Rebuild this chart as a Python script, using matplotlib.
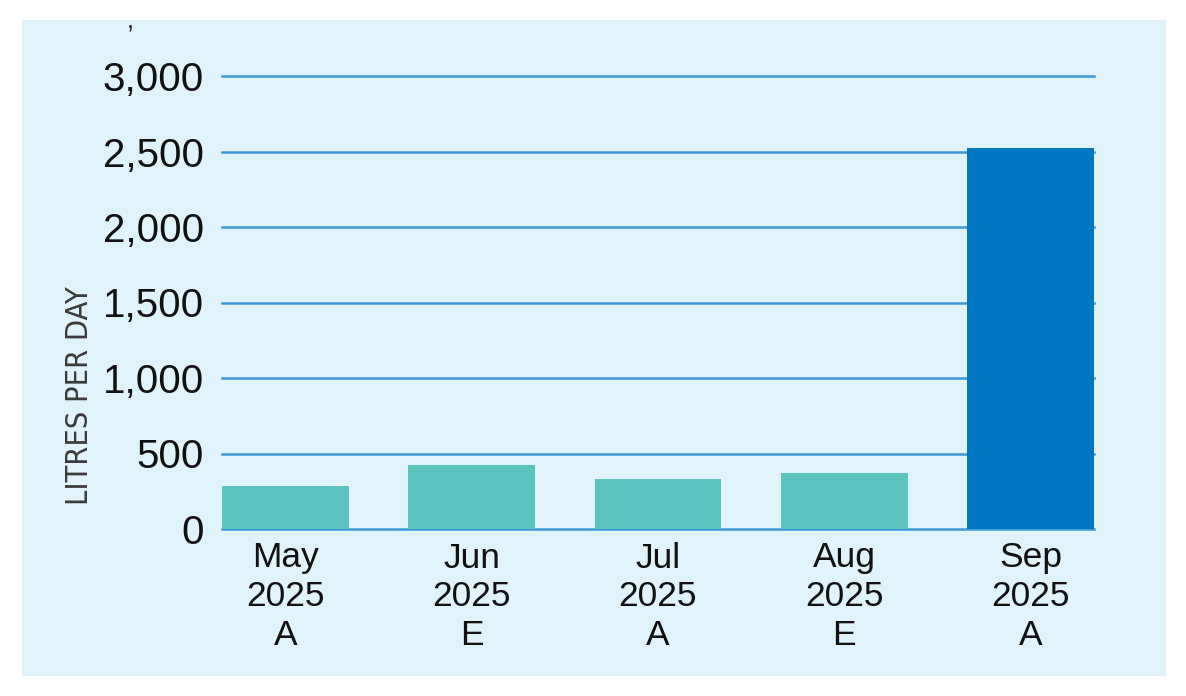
import matplotlib.pyplot as plt
from matplotlib.patches import Rectangle
from matplotlib.ticker import FuncFormatter

months = ['May\n2025\nA', 'Jun\n2025\nE', 'Jul\n2025\nA', 'Aug\n2025\nE', 'Sep\n2025\nA']
litres = [285, 424, 331, 371, 2523]
yticks = [0, 500, 1000, 1500, 2000, 2500, 3000]

teal = '#5bc4bf'
blue = '#0077c0'
grid_col = '#3d98d4'
panel = '#e0f3fb'

plt.rcParams['font.family'] = ['Liberation Sans', 'DejaVu Sans']

fig = plt.figure(figsize=(11.86, 6.96), dpi=100)
fig.patch.set_facecolor('white')
fig.patches.append(Rectangle((22/1186, 20/696), 1144/1186, 656/696,
                             transform=fig.transFigure, facecolor=panel,
                             edgecolor='none', zorder=-10))

ax = fig.add_axes([222/1186, 167/696, 872/1186, 453/696])
ax.set_facecolor('none')

colors = [teal]*4 + [blue]
x = range(len(months))
ax.bar(x, litres, width=0.68, color=colors, zorder=3)

ax.set_xlim(-0.34, 4.34)
ax.set_ylim(0, 3000)
ax.set_yticks(yticks)
ax.yaxis.set_major_formatter(FuncFormatter(lambda v, p: '{:,.0f}'.format(v)))
for t in yticks:
    ax.axhline(t, color=grid_col, lw=1.8, zorder=2, clip_on=False)

ax.set_xticks(list(x))
ax.set_xticklabels(months, fontsize=25.5, linespacing=1.23)
ax.tick_params(axis='x', length=0, pad=9, colors='#111111')
ax.tick_params(axis='y', length=0, pad=13, labelsize=29, colors='#111111')
for s in ax.spines.values():
    s.set_visible(False)

ax.set_ylabel('LITRES PER DAY', fontsize=22, color='#3a3a3a',
              family='DejaVu Sans', fontstretch='condensed')
ax.yaxis.set_label_coords((94 - 222) / 872, (529 - 396) / 453)

fig.text(130/1186, 1 - 22/696, ',', fontsize=18, color='#111111', ha='center', va='center')

fig.savefig('out.png', dpi=100)
